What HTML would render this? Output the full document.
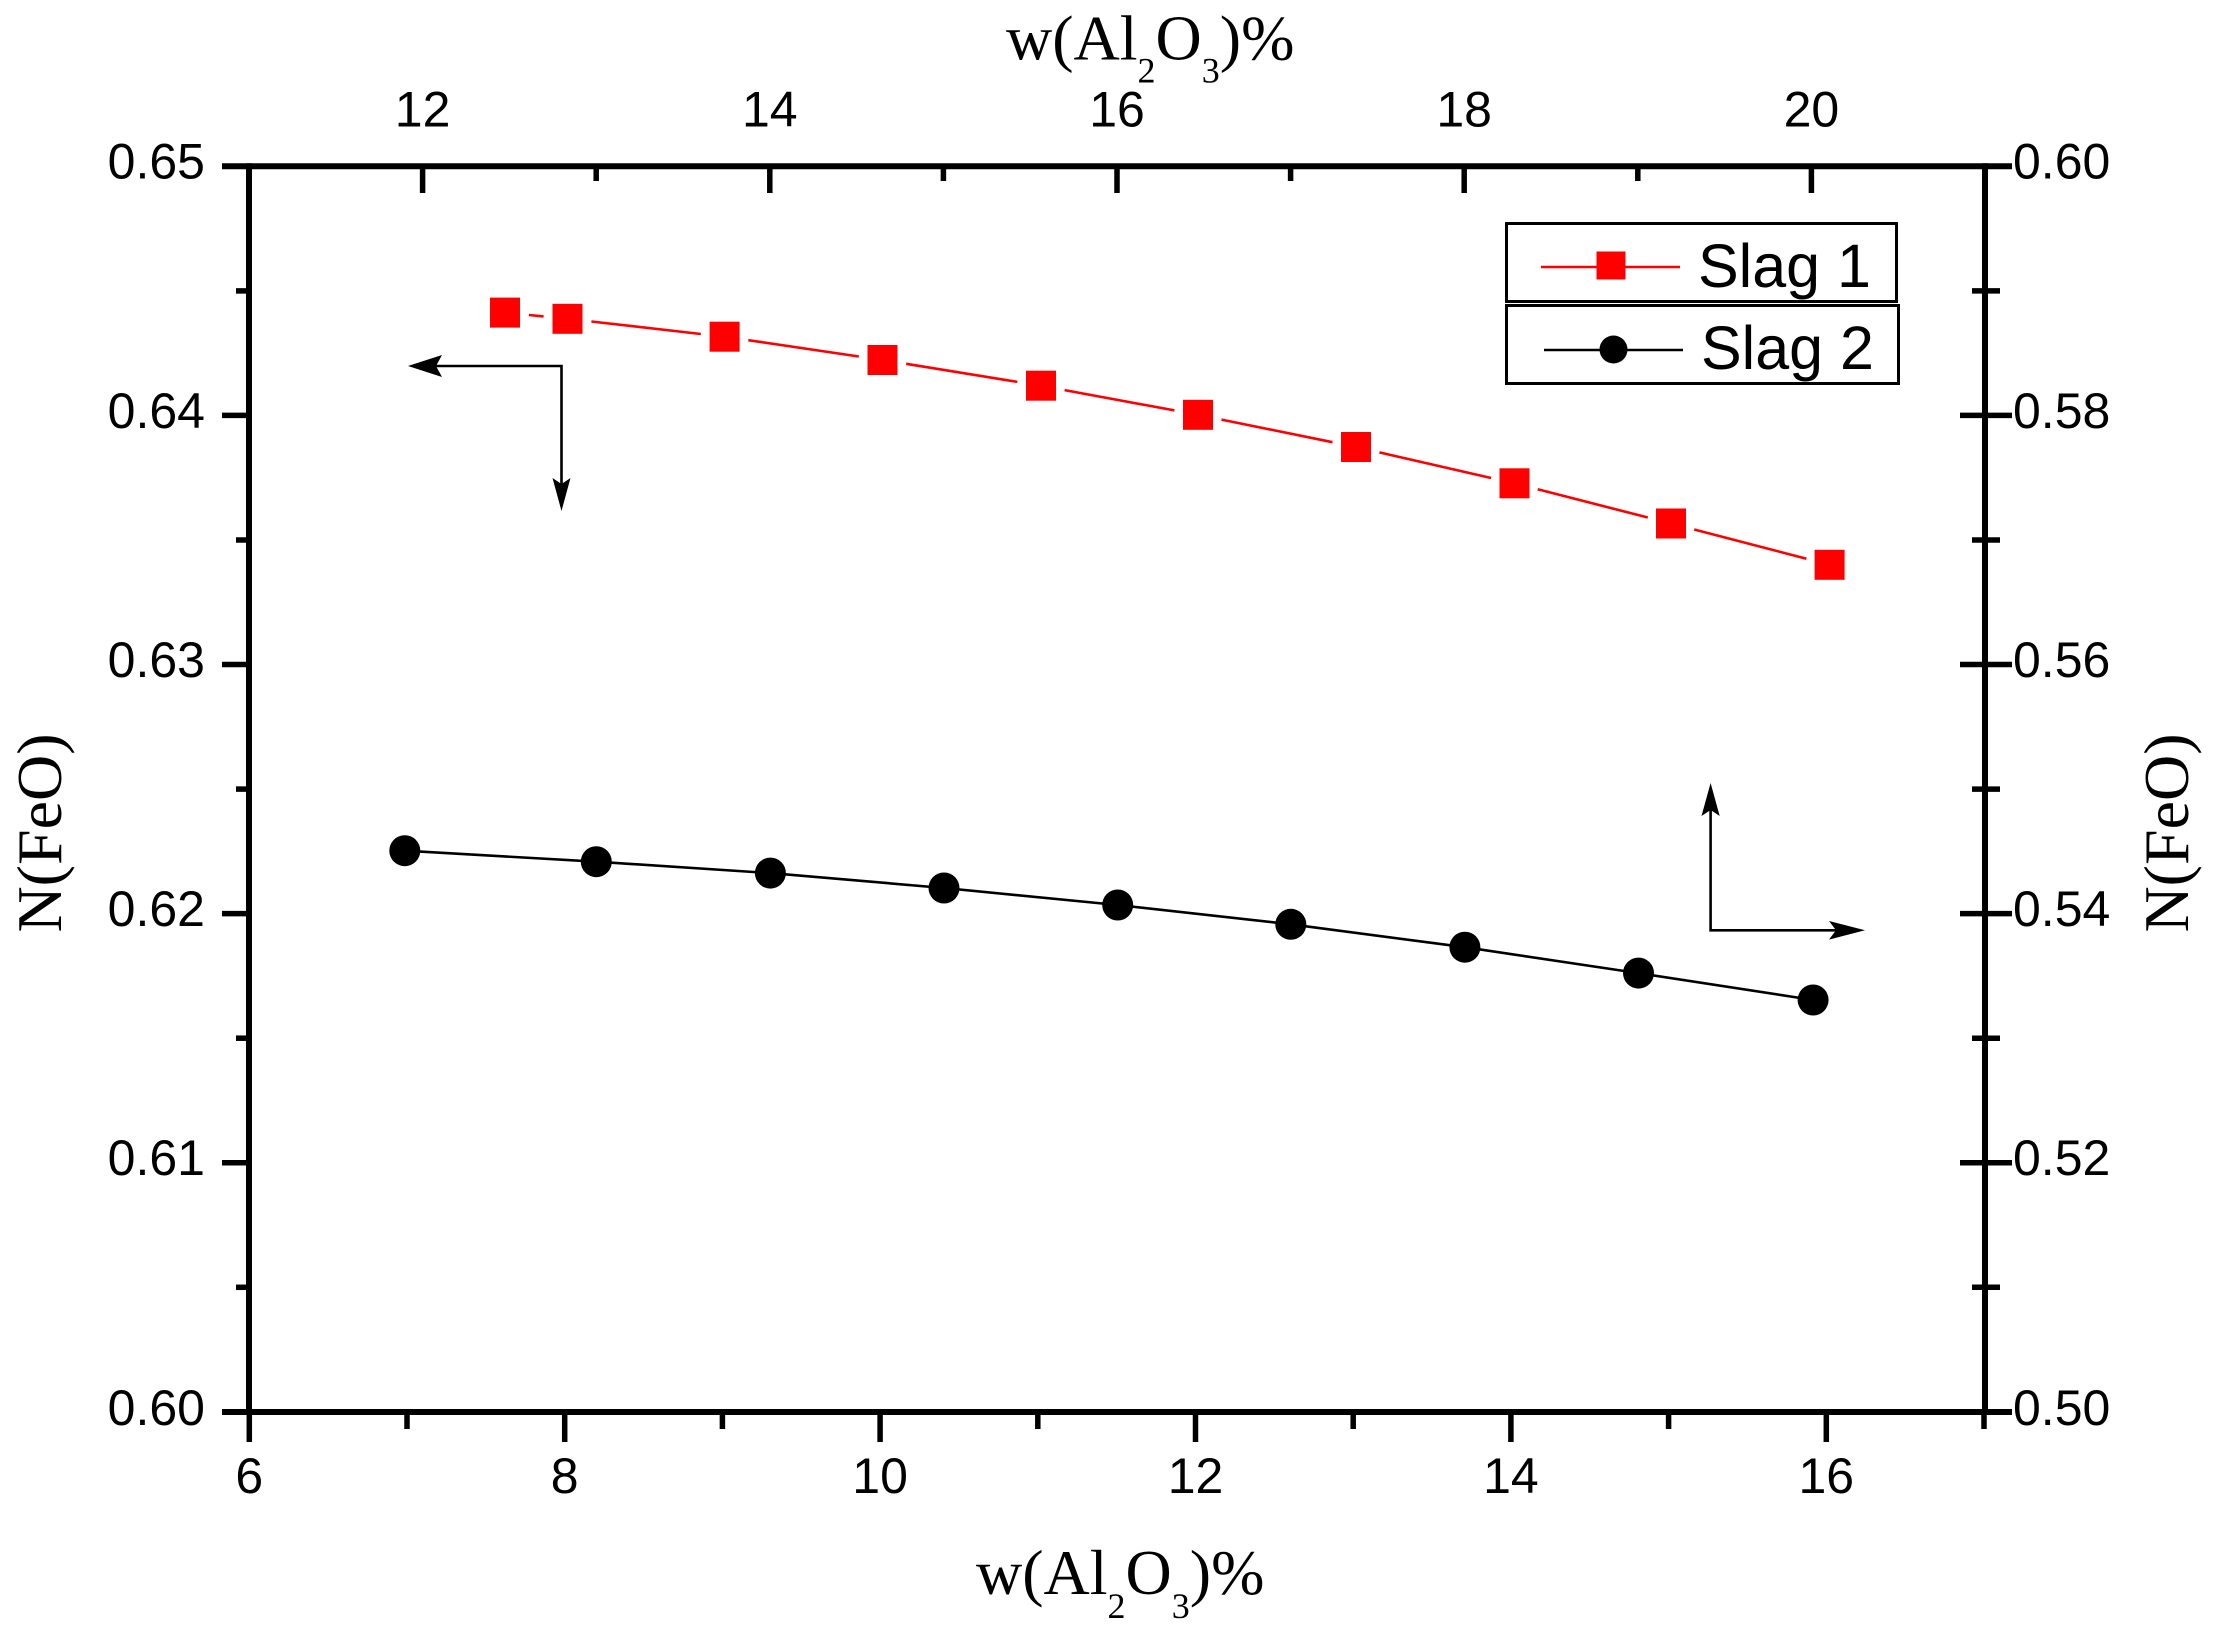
<!DOCTYPE html>
<html>
<head>
<meta charset="utf-8">
<style>
  html, body { margin: 0; padding: 0; background: #ffffff; }
  svg { display: block; }
  .num { font-family: "Liberation Sans", Arial, sans-serif; font-size: 50px; fill: #000; }
  .ttl { font-family: "Liberation Serif", "Times New Roman", serif; font-size: 64px; fill: #000; }
  .leg { font-family: "Liberation Sans", Arial, sans-serif; font-size: 61px; fill: #000; }
</style>
</head>
<body>
<svg width="2215" height="1626" viewBox="0 0 2215 1626" xmlns="http://www.w3.org/2000/svg">
  <rect x="0" y="0" width="2215" height="1626" fill="#ffffff"/>

  <!-- Axes frame -->
  <g stroke="#000" stroke-width="6" fill="none" stroke-linecap="butt">
    <line x1="222" y1="166.3" x2="2012" y2="166.3"/>
    <line x1="222" y1="1412" x2="2012" y2="1412"/>
    <line x1="249" y1="163.3" x2="249" y2="1415"/>
    <line x1="1985" y1="163.3" x2="1985" y2="1415"/>
  </g>

  <!-- Left axis ticks (outward) -->
  <g stroke="#000" stroke-width="5.5">
    <line x1="222" y1="415.4" x2="249" y2="415.4"/>
    <line x1="222" y1="664.5" x2="249" y2="664.5"/>
    <line x1="222" y1="913.6" x2="249" y2="913.6"/>
    <line x1="222" y1="1162.7" x2="249" y2="1162.7"/>
    <line x1="236" y1="290.9" x2="249" y2="290.9"/>
    <line x1="236" y1="540" x2="249" y2="540"/>
    <line x1="236" y1="789.1" x2="249" y2="789.1"/>
    <line x1="236" y1="1038.2" x2="249" y2="1038.2"/>
    <line x1="236" y1="1287.3" x2="249" y2="1287.3"/>
  </g>

  <!-- Right axis ticks (both sides) -->
  <g stroke="#000" stroke-width="5.5">
    <line x1="1960" y1="415.4" x2="2012" y2="415.4"/>
    <line x1="1960" y1="664.5" x2="2012" y2="664.5"/>
    <line x1="1960" y1="913.6" x2="2012" y2="913.6"/>
    <line x1="1960" y1="1162.7" x2="2012" y2="1162.7"/>
    <line x1="1972" y1="290.9" x2="2000" y2="290.9"/>
    <line x1="1972" y1="540" x2="2000" y2="540"/>
    <line x1="1972" y1="789.1" x2="2000" y2="789.1"/>
    <line x1="1972" y1="1038.2" x2="2000" y2="1038.2"/>
    <line x1="1972" y1="1287.3" x2="2000" y2="1287.3"/>
  </g>

  <!-- Bottom axis ticks (outward, down) -->
  <g stroke="#000" stroke-width="5.5">
    <line x1="249.3" y1="1412" x2="249.3" y2="1442"/>
    <line x1="564.7" y1="1412" x2="564.7" y2="1442"/>
    <line x1="880.1" y1="1412" x2="880.1" y2="1442"/>
    <line x1="1195.5" y1="1412" x2="1195.5" y2="1442"/>
    <line x1="1510.9" y1="1412" x2="1510.9" y2="1442"/>
    <line x1="1826.3" y1="1412" x2="1826.3" y2="1442"/>
    <line x1="407" y1="1412" x2="407" y2="1429"/>
    <line x1="722.4" y1="1412" x2="722.4" y2="1429"/>
    <line x1="1037.8" y1="1412" x2="1037.8" y2="1429"/>
    <line x1="1353.2" y1="1412" x2="1353.2" y2="1429"/>
    <line x1="1668.6" y1="1412" x2="1668.6" y2="1429"/>
    <line x1="1984" y1="1412" x2="1984" y2="1429"/>
  </g>

  <!-- Top axis ticks (inward, down) -->
  <g stroke="#000" stroke-width="5.5">
    <line x1="422.6" y1="166" x2="422.6" y2="193"/>
    <line x1="769.8" y1="166" x2="769.8" y2="193"/>
    <line x1="1117" y1="166" x2="1117" y2="193"/>
    <line x1="1464.2" y1="166" x2="1464.2" y2="193"/>
    <line x1="1811.4" y1="166" x2="1811.4" y2="193"/>
    <line x1="596.2" y1="166" x2="596.2" y2="181"/>
    <line x1="943.4" y1="166" x2="943.4" y2="181"/>
    <line x1="1290.6" y1="166" x2="1290.6" y2="181"/>
    <line x1="1637.8" y1="166" x2="1637.8" y2="181"/>
  </g>

  <!-- Left tick labels -->
  <g class="num" text-anchor="end">
    <text x="205" y="178.5">0.65</text>
    <text x="205" y="427.8">0.64</text>
    <text x="205" y="676.9">0.63</text>
    <text x="205" y="926">0.62</text>
    <text x="205" y="1175.1">0.61</text>
    <text x="205" y="1425">0.60</text>
  </g>

  <!-- Right tick labels -->
  <g class="num" text-anchor="start">
    <text x="2013" y="178.5">0.60</text>
    <text x="2013" y="427.8">0.58</text>
    <text x="2013" y="676.9">0.56</text>
    <text x="2013" y="926">0.54</text>
    <text x="2013" y="1175.1">0.52</text>
    <text x="2013" y="1425">0.50</text>
  </g>

  <!-- Bottom tick labels -->
  <g class="num" text-anchor="middle">
    <text x="249.3" y="1493">6</text>
    <text x="564.7" y="1493">8</text>
    <text x="880.1" y="1493">10</text>
    <text x="1195.5" y="1493">12</text>
    <text x="1510.9" y="1493">14</text>
    <text x="1826.3" y="1493">16</text>
  </g>

  <!-- Top tick labels -->
  <g class="num" text-anchor="middle">
    <text x="422.6" y="126.5">12</text>
    <text x="769.8" y="126.5">14</text>
    <text x="1117" y="126.5">16</text>
    <text x="1464.2" y="126.5">18</text>
    <text x="1811.4" y="126.5">20</text>
  </g>

  <!-- Axis titles -->
  <text class="ttl" x="1006" y="59.5">w(Al<tspan font-size="36" dy="23">2</tspan><tspan dy="-23">O</tspan><tspan font-size="36" dy="23">3</tspan><tspan dy="-23">)%</tspan></text>
  <text class="ttl" x="976" y="1594">w(Al<tspan font-size="36" dy="24">2</tspan><tspan dy="-24">O</tspan><tspan font-size="36" dy="24">3</tspan><tspan dy="-24">)%</tspan></text>
  <text class="ttl" font-size="63" text-anchor="middle" transform="translate(61,833) rotate(-90)">N(FeO)</text>
  <text class="ttl" font-size="63" text-anchor="middle" transform="translate(2188,833) rotate(-90)">N(FeO)</text>

  <!-- Slag 1 line segments (red, with gaps) -->
  <g stroke="#ff0000" stroke-width="2.6" fill="none">
    <line x1="528.9" y1="315.0" x2="543.6" y2="316.4"/>
    <line x1="591.4" y1="321.5" x2="700.8" y2="334.0"/>
    <line x1="748.3" y1="340.2" x2="858.8" y2="356.5"/>
    <line x1="906.2" y1="363.8" x2="1017.3" y2="381.9"/>
    <line x1="1064.6" y1="390.1" x2="1174.4" y2="410.4"/>
    <line x1="1221.5" y1="419.6" x2="1332.5" y2="442.2"/>
    <line x1="1379.4" y1="452.4" x2="1491.1" y2="478.0"/>
    <line x1="1537.7" y1="489.3" x2="1647.8" y2="517.5"/>
    <line x1="1694.2" y1="529.5" x2="1806.4" y2="558.7"/>
  </g>
  <!-- Slag 1 markers -->
  <g fill="#ff0000">
    <rect x="490" y="297.6" width="30" height="30"/>
    <rect x="552.5" y="303.8" width="30" height="30"/>
    <rect x="709.6" y="321.7" width="30" height="30"/>
    <rect x="867.5" y="345" width="30" height="30"/>
    <rect x="1026" y="370.7" width="30" height="30"/>
    <rect x="1183" y="399.8" width="30" height="30"/>
    <rect x="1341" y="432" width="30" height="30"/>
    <rect x="1499.5" y="468.3" width="30" height="30"/>
    <rect x="1656" y="508.5" width="30" height="30"/>
    <rect x="1814.6" y="549.8" width="30" height="30"/>
  </g>

  <!-- Slag 2 line -->
  <polyline fill="none" stroke="#000" stroke-width="2.6"
    points="404.8,850.7 596.3,861.7 770.4,873.1 944,888 1117.7,905 1290.8,924.3 1464.9,947.2 1638.5,973.1 1813.1,1000"/>
  <!-- Slag 2 markers -->
  <g fill="#000">
    <circle cx="404.8" cy="850.7" r="15.5"/>
    <circle cx="596.3" cy="861.7" r="15.5"/>
    <circle cx="770.4" cy="873.1" r="15.5"/>
    <circle cx="944" cy="888" r="15.5"/>
    <circle cx="1117.7" cy="905" r="15.5"/>
    <circle cx="1290.8" cy="924.3" r="15.5"/>
    <circle cx="1464.9" cy="947.2" r="15.5"/>
    <circle cx="1638.5" cy="973.1" r="15.5"/>
    <circle cx="1813.1" cy="1000" r="15.5"/>
  </g>

  <!-- Left arrow (Slag 1 -> left/bottom axes) -->
  <g stroke="#000" stroke-width="2.6" fill="none">
    <polyline points="436,366 561.5,366 561.5,484"/>
  </g>
  <g fill="#000">
    <polygon points="408,366 442,355 436,366 442,377"/>
    <polygon points="561.5,511 552.5,478 561.5,484 570.5,478"/>
  </g>

  <!-- Right arrow (Slag 2 -> right/top axes) -->
  <g stroke="#000" stroke-width="2.6" fill="none">
    <polyline points="1710.6,810 1710.6,930.3 1836,930.3"/>
  </g>
  <g fill="#000">
    <polygon points="1710.6,783 1701.5,816 1710.6,810 1719.7,816"/>
    <polygon points="1865,930.3 1829,921 1836,930.3 1829,939.6"/>
  </g>

  <!-- Legend -->
  <g fill="#fff" stroke="#000" stroke-width="3">
    <rect x="1506.5" y="223.5" width="390" height="78"/>
    <rect x="1506.5" y="305.5" width="392" height="78"/>
  </g>
  <line x1="1541" y1="267" x2="1680" y2="267" stroke="#ff0000" stroke-width="2.6"/>
  <rect x="1596.5" y="251.5" width="29" height="28" fill="#ff0000"/>
  <text class="leg" x="1698" y="287">Slag 1</text>
  <line x1="1544" y1="350" x2="1683" y2="350" stroke="#000" stroke-width="2.6"/>
  <circle cx="1613.5" cy="349.5" r="14" fill="#000"/>
  <text class="leg" x="1701" y="369">Slag 2</text>
</svg>
</body>
</html>
